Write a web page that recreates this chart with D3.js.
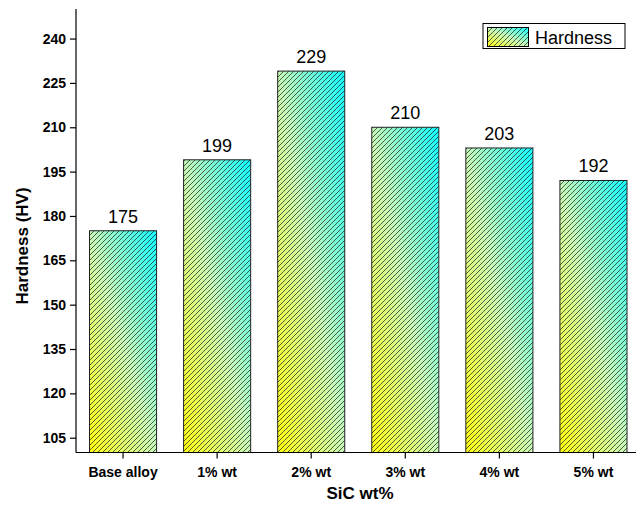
<!DOCTYPE html>
<html>
<head>
<meta charset="utf-8">
<script src="https://cdn.jsdelivr.net/npm/d3@7"></script>
<style>
  html, body { margin: 0; padding: 0; background: #fff; }
  svg { display: block; font-family: "Liberation Sans", Arial, sans-serif; }
</style>
</head>
<body>
<svg id="chart" width="636" height="507"></svg>
<script>
const categories = ["Base alloy", "1% wt", "2% wt", "3% wt", "4% wt", "5% wt"];
const hardness = [175, 199, 229, 210, 203, 192];
const yTicks = [105, 120, 135, 150, 165, 180, 195, 210, 225, 240];
const seriesName = "Hardness";
const xTitle = "SiC wt%";
const yTitle = "Hardness (HV)";

(function () {
const svg = d3.select("#chart");
const defs = svg.append("defs");

const grad = defs.append("linearGradient")
  .attr("id", "barGrad")
  .attr("x1", 0).attr("y1", 1).attr("x2", 1).attr("y2", 0);
grad.append("stop").attr("offset", "0%").attr("stop-color", "#ffff10");
grad.append("stop").attr("offset", "50%").attr("stop-color", "#c8f8b8");
grad.append("stop").attr("offset", "100%").attr("stop-color", "#10ffff");

const hatch = defs.append("pattern")
  .attr("id", "hatch")
  .attr("patternUnits", "userSpaceOnUse")
  .attr("width", 5).attr("height", 5);
hatch.append("path")
  .attr("d", "M-1,6 L6,-1 M-1,1 L1,-1 M4,6 L6,4")
  .attr("stroke", "#1a1a1a").attr("stroke-width", 0.7).attr("fill", "none");

const mLeft = 76, mRight = 640.5, mTop = 9, mBottom = 452.5;

const x = d3.scaleBand()
  .domain(categories)
  .range([mLeft, mRight])
  .paddingInner(0.287)
  .paddingOuter(0.1435);

const y = d3.scaleLinear()
  .domain([100, 250])
  .range([mBottom, mTop]);

// Bars
const bars = svg.append("g");
const data = categories.map((c, i) => ({ c, v: hardness[i] }));
bars.selectAll("rect.fill").data(data).join("rect")
  .attr("class", "fill")
  .attr("x", d => x(d.c)).attr("y", d => y(d.v))
  .attr("width", x.bandwidth()).attr("height", d => mBottom - y(d.v))
  .attr("fill", "url(#barGrad)");
bars.selectAll("rect.hatch").data(data).join("rect")
  .attr("class", "hatch")
  .attr("x", d => x(d.c)).attr("y", d => y(d.v))
  .attr("width", x.bandwidth()).attr("height", d => mBottom - y(d.v))
  .attr("fill", "url(#hatch)")
  .attr("stroke", "#222").attr("stroke-width", 1);

// Value labels
svg.append("g").selectAll("text").data(data).join("text")
  .attr("x", d => x(d.c) + x.bandwidth() / 2)
  .attr("y", d => y(d.v) - 8)
  .attr("text-anchor", "middle")
  .attr("font-size", 18)
  .attr("fill", "#000")
  .text(d => d.v);

// Y axis
const yAxis = svg.append("g")
  .attr("transform", `translate(${mLeft},0)`)
  .call(d3.axisLeft(y).tickValues(yTicks).tickSize(6).tickPadding(4).tickSizeOuter(0));
yAxis.select(".domain").remove();
yAxis.append("line").attr("x1", 0).attr("x2", 0).attr("y1", mTop).attr("y2", mBottom)
  .attr("stroke", "#000").attr("stroke-width", 1.2);
yAxis.selectAll(".tick line").attr("stroke", "#000").attr("stroke-width", 1.2);
yAxis.selectAll(".tick text").attr("font-size", 14).attr("font-weight", "bold")
  .attr("fill", "#000").attr("font-family", "Liberation Sans, Arial, sans-serif");

// X axis
const xAxis = svg.append("g")
  .attr("transform", `translate(0,${mBottom})`)
  .call(d3.axisBottom(x).tickSize(6).tickPadding(9).tickSizeOuter(0));
xAxis.select(".domain").remove();
xAxis.append("line").attr("x1", mLeft).attr("x2", 636).attr("y1", 0).attr("y2", 0)
  .attr("stroke", "#000").attr("stroke-width", 1.2);
xAxis.selectAll(".tick line").attr("stroke", "#000").attr("stroke-width", 1.2);
xAxis.selectAll(".tick text").attr("font-size", 14).attr("font-weight", "bold")
  .attr("fill", "#000").attr("font-family", "Liberation Sans, Arial, sans-serif");

// Axis titles
svg.append("text")
  .attr("x", 360).attr("y", 499)
  .attr("text-anchor", "middle")
  .attr("font-size", 17).attr("font-weight", "bold")
  .text(xTitle);
svg.append("text")
  .attr("transform", "translate(28,246) rotate(-90)")
  .attr("text-anchor", "middle")
  .attr("font-size", 17).attr("font-weight", "bold")
  .text(yTitle);

// Legend
const lg = svg.append("g");
lg.append("rect").attr("x", 483).attr("y", 23.5).attr("width", 142).attr("height", 25)
  .attr("fill", "#fff").attr("stroke", "#000").attr("stroke-width", 1);
lg.append("rect").attr("x", 487.5).attr("y", 27.5).attr("width", 41).attr("height", 19)
  .attr("fill", "url(#barGrad)");
lg.append("rect").attr("x", 487.5).attr("y", 27.5).attr("width", 41).attr("height", 19)
  .attr("fill", "url(#hatch)").attr("stroke", "#000").attr("stroke-width", 1);
lg.append("text").attr("x", 535).attr("y", 43.5)
  .attr("font-size", 18).attr("fill", "#000").text(seriesName);
})();
</script>
</body>
</html>
